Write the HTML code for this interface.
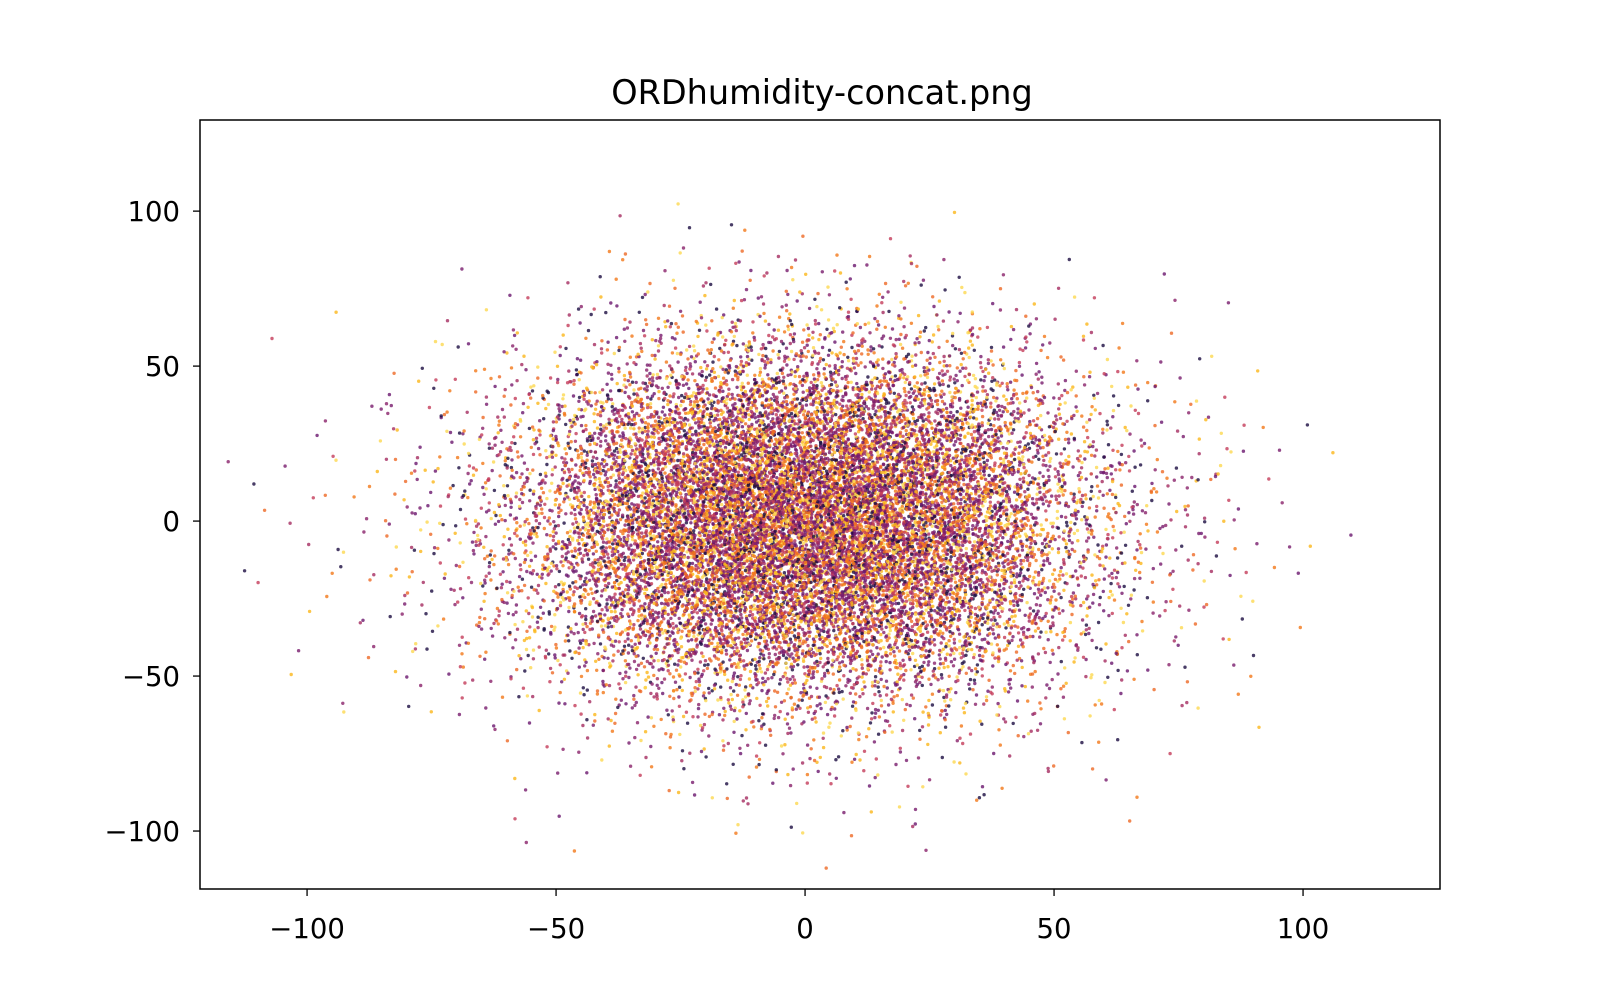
<!DOCTYPE html>
<html><head><meta charset="utf-8"><style>
html,body{margin:0;padding:0;background:#fff;}
svg{display:block;font-family:"DejaVu Sans","Liberation Sans",sans-serif;}
</style></head><body>
<svg id="chart" width="1600" height="1000" viewBox="0 0 1600 1000">
<defs><clipPath id="plotclip"><rect x="200" y="120" width="1240" height="769"/></clipPath></defs>
<text x="822" y="104" text-anchor="middle" font-size="33.5" fill="#000">ORDhumidity-concat.png</text>
<g id="points" clip-path="url(#plotclip)"></g>
<rect x="200" y="120" width="1240" height="769" fill="none" stroke="#000" stroke-width="1.5"/>
<g id="xaxis"></g>
<g id="yaxis"></g>
</svg>
<script>
// x cell centers, y cell centers (top to bottom), counts per cell (density)
const xCells = [-110,-90,-70,-50,-30,-10,10,30,50,70,90,110];
const yCells = [110,90,70,50,30,10,-10,-30,-50,-70,-90,-110];
const counts = [
[0,0,0,0,1,0,0,0,0,0,0,0],
[0,0,0,0,4,6,4,3,0,0,0,0],
[0,0,2,8,28,50,50,28,8,3,0,0],
[0,4,12,45,150,250,250,150,45,10,1,0],
[1,6,32,160,560,850,850,560,160,32,5,0],
[2,10,50,250,900,1400,1400,900,250,50,8,1],
[2,10,50,250,900,1400,1400,900,250,50,8,1],
[1,6,32,160,560,850,850,560,160,32,5,0],
[1,3,12,50,160,250,250,160,50,12,3,0],
[0,1,3,10,32,55,55,32,12,4,1,0],
[0,0,1,3,6,10,10,6,3,1,0,0],
[0,0,0,0,0,1,1,0,0,1,0,0]
];
const xTicks = [-100,-50,0,50,100];
const yTicks = [100,50,0,-50,-100];
const palette = ["#1b0c41","#781c6d","#a52c60","#c43c5a","#f37819","#fbb61a","#fcd850","#8a226a","#ed6925","#6a176e"];

const ns = "http://www.w3.org/2000/svg";
const X0=200,X1=1440,Y0=120,Y1=889;
const xMin=-121.5,xMax=127.5,yMin=-118.7,yMax=129.4;
function sx(v){return X0+(v-xMin)/(xMax-xMin)*(X1-X0);}
function sy(v){return Y1-(v-yMin)/(yMax-yMin)*(Y1-Y0);}
function halton(i,b){let f=1,r=0;while(i>0){f/=b;r+=f*(i%b);i=Math.floor(i/b);}return r;}

const pg=document.getElementById("points");
let k=1;
for(let r=0;r<yCells.length;r++){
  for(let c=0;c<xCells.length;c++){
    const n=counts[r][c];
    for(let i=0;i<n;i++){
      const px=xCells[c]+20*(halton(k,2)+halton(k,7)-1);
      const py=yCells[r]+20*(halton(k,3)+halton(k,11)-1);
      const ci=Math.floor(halton(k,5)*palette.length);
      k++;
      const e=document.createElementNS(ns,"circle");
      e.setAttribute("cx",sx(px).toFixed(1));
      e.setAttribute("cy",sy(py).toFixed(1));
      e.setAttribute("r","1.7");
      e.setAttribute("fill",palette[ci]);
      e.setAttribute("fill-opacity","0.8");
      
      
      pg.appendChild(e);
    }
  }
}
const xg=document.getElementById("xaxis");
xTicks.forEach(t=>{
  const x=sx(t);
  const l=document.createElementNS(ns,"line");
  l.setAttribute("x1",x);l.setAttribute("x2",x);l.setAttribute("y1",Y1);l.setAttribute("y2",Y1+7);
  l.setAttribute("stroke","#000");l.setAttribute("stroke-width","1.3");
  
  
  xg.appendChild(l);
  const tx=document.createElementNS(ns,"text");
  tx.setAttribute("x",x);tx.setAttribute("y",938);tx.setAttribute("text-anchor","middle");tx.setAttribute("font-size","27.5");
  tx.textContent=(t<0?"\u2212"+(-t):String(t));
  
  
  xg.appendChild(tx);
});
const yg=document.getElementById("yaxis");
yTicks.forEach(t=>{
  const y=sy(t);
  const l=document.createElementNS(ns,"line");
  l.setAttribute("x1",X0-7);l.setAttribute("x2",X0);l.setAttribute("y1",y);l.setAttribute("y2",y);
  l.setAttribute("stroke","#000");l.setAttribute("stroke-width","1.3");
  
  
  yg.appendChild(l);
  const tx=document.createElementNS(ns,"text");
  tx.setAttribute("x",X0-20);tx.setAttribute("y",y+10);tx.setAttribute("text-anchor","end");tx.setAttribute("font-size","27.5");
  tx.textContent=(t<0?"\u2212"+(-t):String(t));
  
  
  yg.appendChild(tx);
});
</script>
</body></html>
